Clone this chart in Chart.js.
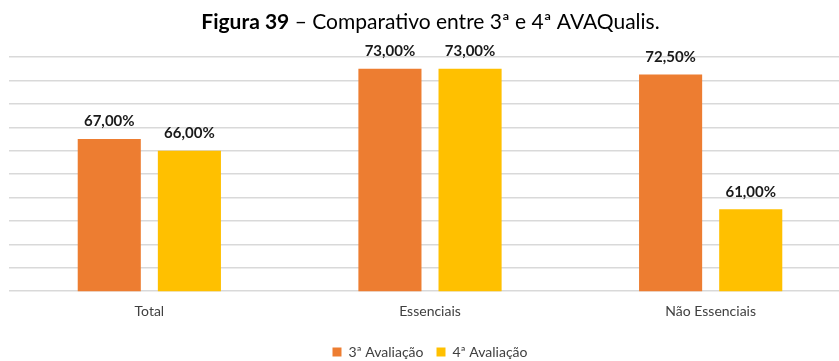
<!DOCTYPE html>
<html lang="pt">
<head>
  <meta charset="UTF-8">
  <title>Comparativo AVAQualis</title>
  <script src="https://cdn.jsdelivr.net/npm/chart.js"></script>
  <style>
    html, body { margin: 0; padding: 0; background: #fff; overflow: hidden; }
    .chart-box { position: relative; width: 851px; height: 361px; }
  </style>
</head>
<body>
  <div class="chart-box">
    <canvas id="avaChart"></canvas>
  </div>
  <script>
  // dados do gráfico
  const categorias = ['Total', 'Essenciais', 'Não Essenciais'];
  const avaliacao3 = [67.0, 73.0, 72.5];
  const avaliacao4 = [66.0, 73.0, 61.0];
  const nomesSeries = ['3ª Avaliação', '4ª Avaliação'];
  const coresSeries = ['#ED7D31', '#FFC000'];
  const eixoMin = 54, eixoMax = 74, eixoPasso = 2;

  const FONTE = 'Lato, "Open Sans", sans-serif';

  // título com parte em negrito
  const tituloPlugin = {
    id: 'tituloFigura',
    afterDraw(chart) {
      const ctx = chart.ctx;
      const parte1 = 'Figura 39';
      const parte2 = ' – Comparativo entre 3ª e 4ª AVAQualis.';
      ctx.save();
      ctx.textBaseline = 'alphabetic';
      ctx.fillStyle = '#000';
      ctx.font = 'bold 21px ' + FONTE;
      const w1 = ctx.measureText(parte1).width;
      ctx.font = '21px ' + FONTE;
      const w2 = ctx.measureText(parte2).width;
      const x0 = 430.5 - (w1 + w2) / 2;
      ctx.font = 'bold 21px ' + FONTE;
      ctx.textAlign = 'left';
      ctx.fillText(parte1, x0, 29);
      ctx.font = '21px ' + FONTE;
      ctx.fillText(parte2, x0 + w1, 29);
      ctx.restore();
    }
  };

  // rótulos de valor acima das barras
  const rotulosPlugin = {
    id: 'rotulosValor',
    afterDatasetsDraw(chart) {
      const ctx = chart.ctx;
      ctx.save();
      ctx.font = 'bold 15px ' + FONTE;
      ctx.fillStyle = '#1a1a1a';
      ctx.textAlign = 'center';
      ctx.textBaseline = 'alphabetic';
      chart.data.datasets.forEach((ds, i) => {
        chart.getDatasetMeta(i).data.forEach((bar, j) => {
          const txt = ds.data[j].toFixed(2).replace('.', ',') + '%';
          ctx.fillText(txt, bar.x, bar.y - 12.5);
        });
      });
      ctx.restore();
    }
  };

  new Chart(document.getElementById('avaChart'), {
    type: 'bar',
    data: {
      labels: categorias,
      datasets: [
        { label: nomesSeries[0], data: avaliacao3, backgroundColor: coresSeries[0] },
        { label: nomesSeries[1], data: avaliacao4, backgroundColor: coresSeries[1] }
      ]
    },
    options: {
      responsive: true,
      maintainAspectRatio: false,
      animation: false,
      categoryPercentage: 0.571,
      barPercentage: 0.7875,
      layout: { padding: { left: 9, right: 0, top: 57, bottom: -8 } },
      scales: {
        x: {
          grid: { display: false, drawTicks: false },
          border: { display: false },
          ticks: { color: '#404040', font: { family: FONTE, size: 14 }, padding: 12 }
        },
        y: {
          min: eixoMin,
          max: eixoMax,
          ticks: { display: false, stepSize: eixoPasso },
          grid: { color: '#d9d9d9', lineWidth: 1.5, drawTicks: false },
          border: { display: false }
        }
      },
      plugins: {
        legend: {
          position: 'bottom',
          labels: {
            boxWidth: 9,
            boxHeight: 9,
            padding: 13,
            color: '#404040',
            font: { family: FONTE, size: 14 }
          }
        },
        tooltip: { enabled: false }
      }
    },
    plugins: [tituloPlugin, rotulosPlugin]
  });
  </script>
</body>
</html>
